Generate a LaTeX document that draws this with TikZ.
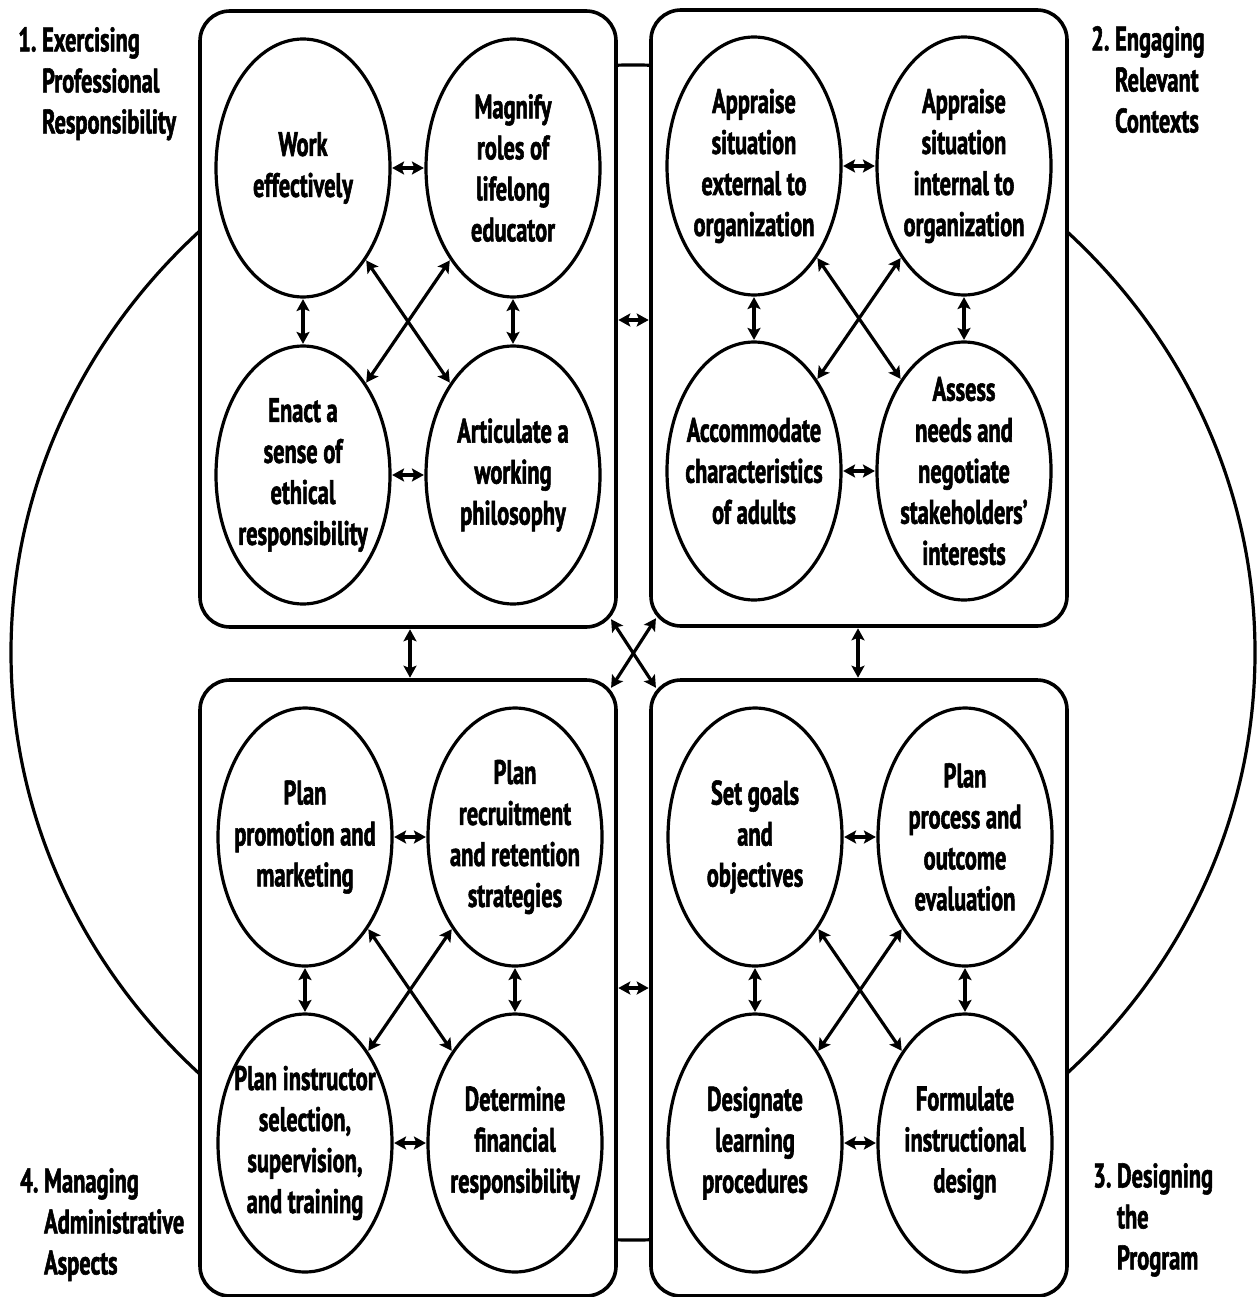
\documentclass[tikz,border=0pt]{standalone}
\usepackage{fontspec}
\setmainfont{PT Sans}
\newfontfamily\labfont[FakeStretch=0.66,FakeBold=1.6]{PT Sans}
\usetikzlibrary{shapes.geometric,arrows.meta,calc}
\begin{document}
\begin{tikzpicture}[x=1pt,y=-1pt,
  txt/.style={font=\labfont\bfseries\fontsize{34}{41}\selectfont, align=center, inner sep=0pt},
  lab/.style={font=\labfont\bfseries\fontsize{34}{41}\selectfont, align=left, anchor=north west, inner sep=0pt},
  bigbox/.style={draw, line width=3.6pt, rounded corners=30pt, fill=white, minimum width=416pt, minimum height=616pt, inner sep=0pt},
  circ/.style={ellipse, draw, line width=3.2pt, minimum width=174pt, minimum height=258pt, inner sep=0pt, fill=white},
  tip/.style={arrows={Stealth[length=12pt,width=13pt,inset=2.5pt]-Stealth[length=12pt,width=13pt,inset=2.5pt]}},
  link/.style={tip, line width=3.2pt, shorten <=0.5pt, shorten >=0.5pt}
]
\useasboundingbox (0,0) rectangle (1258,1297);
% outer ellipse
\draw[line width=3.2pt] (633,652.5) ellipse [x radius=622, y radius=587.5];
% boxes
\node[bigbox] (tl) at (408,319) {};
\node[bigbox] (tr) at (859,318) {};
\node[bigbox] (bl) at (408,988) {};
\node[bigbox] (br) at (859,988) {};
% top-left box
\node[circ] (a1) at (303,168) {};
\node[circ] (a2) at (513,168) {};
\node[circ] (a3) at (303,475) {};
\node[circ] (a4) at (513,475) {};
\node[txt] at (a1) {Work\\effectively};
\node[txt] at (a2) {Magnify\\roles of\\lifelong\\educator};
\node[txt] at (a3) {Enact a\\sense of\\ethical\\responsibility};
\node[txt] at (a4) {Articulate a\\working\\philosophy};
% top-right box
\node[circ] (b1) at (754,166) {};
\node[circ] (b2) at (964,166) {};
\node[circ] (b3) at (754,471) {};
\node[circ] (b4) at (964,471) {};
\node[txt] at (b1) {Appraise\\situation\\external to\\organization};
\node[txt] at (b2) {Appraise\\situation\\internal to\\organization};
\node[txt] at (b3) {Accommodate\\characteristics\\of adults};
\node[txt] at (b4) {Assess\\needs and\\negotiate\\stakeholders’\\interests};
% bottom-left box
\node[circ] (c1) at (305,837) {};
\node[circ] (c2) at (515,837) {};
\node[circ] (c3) at (305,1143) {};
\node[circ] (c4) at (515,1143) {};
\node[txt] at (c1) {Plan\\promotion and\\marketing};
\node[txt] at (c2) {Plan\\recruitment\\and retention\\strategies};
\node[txt] at (c3) {Plan instructor\\selection,\\supervision,\\and training};
\node[txt] at (c4) {Determine\\financial\\responsibility};
% bottom-right box
\node[circ] (d1) at (755,837) {};
\node[circ] (d2) at (965,837) {};
\node[circ] (d3) at (755,1143) {};
\node[circ] (d4) at (965,1143) {};
\node[txt] at (d1) {Set goals\\and\\objectives};
\node[txt] at (d2) {Plan\\process and\\outcome\\evaluation};
\node[txt] at (d3) {Designate\\learning\\procedures};
\node[txt] at (d4) {Formulate\\instructional\\design};
% arrows inside boxes
\foreach \p in {a,b,c,d}{
  \draw[link] (\p1) -- (\p2);
  \draw[link] (\p3) -- (\p4);
  \draw[link] (\p1) -- (\p3);
  \draw[link] (\p2) -- (\p4);
  \draw[link] (\p1) -- (\p4);
  \draw[link] (\p2) -- (\p3);
}
% arrows between boxes
\draw[link] (tl.east |- 0,320) -- (tr.west |- 0,320);
\draw[link] (bl.east |- 0,988) -- (br.west |- 0,988);
\draw[link] (tl.south -| 410,0) -- (bl.north -| 410,0);
\draw[link] (tr.south -| 858,0) -- (br.north -| 858,0);
\coordinate (x1) at ($(tl.south east)+(-7,-10)$);
\coordinate (x2) at ($(br.north west)+(7,10)$);
\coordinate (x3) at ($(tr.south west)+(7,-10)$);
\coordinate (x4) at ($(bl.north east)+(-7,10)$);
\draw[link] (x1) -- (x2);
\draw[link] (x3) -- (x4);
% corner labels
\node[lab] (l1) at (18,27) {1.~Exercising\\\hphantom{1.~}Professional\\\hphantom{1.~}Responsibility};
\node[lab] (l2) at (1091,26) {2.~Engaging\\\hphantom{2.~}Relevant\\\hphantom{2.~}Contexts};
\node[lab] (l4) at (20,1168) {4.~Managing\\\hphantom{4.~}Administrative\\\hphantom{4.~}Aspects};
\node[lab] (l3) at (1093,1163) {3.~Designing\\\hphantom{3.~}the\\\hphantom{3.~}Program};
\end{tikzpicture}
\end{document}
